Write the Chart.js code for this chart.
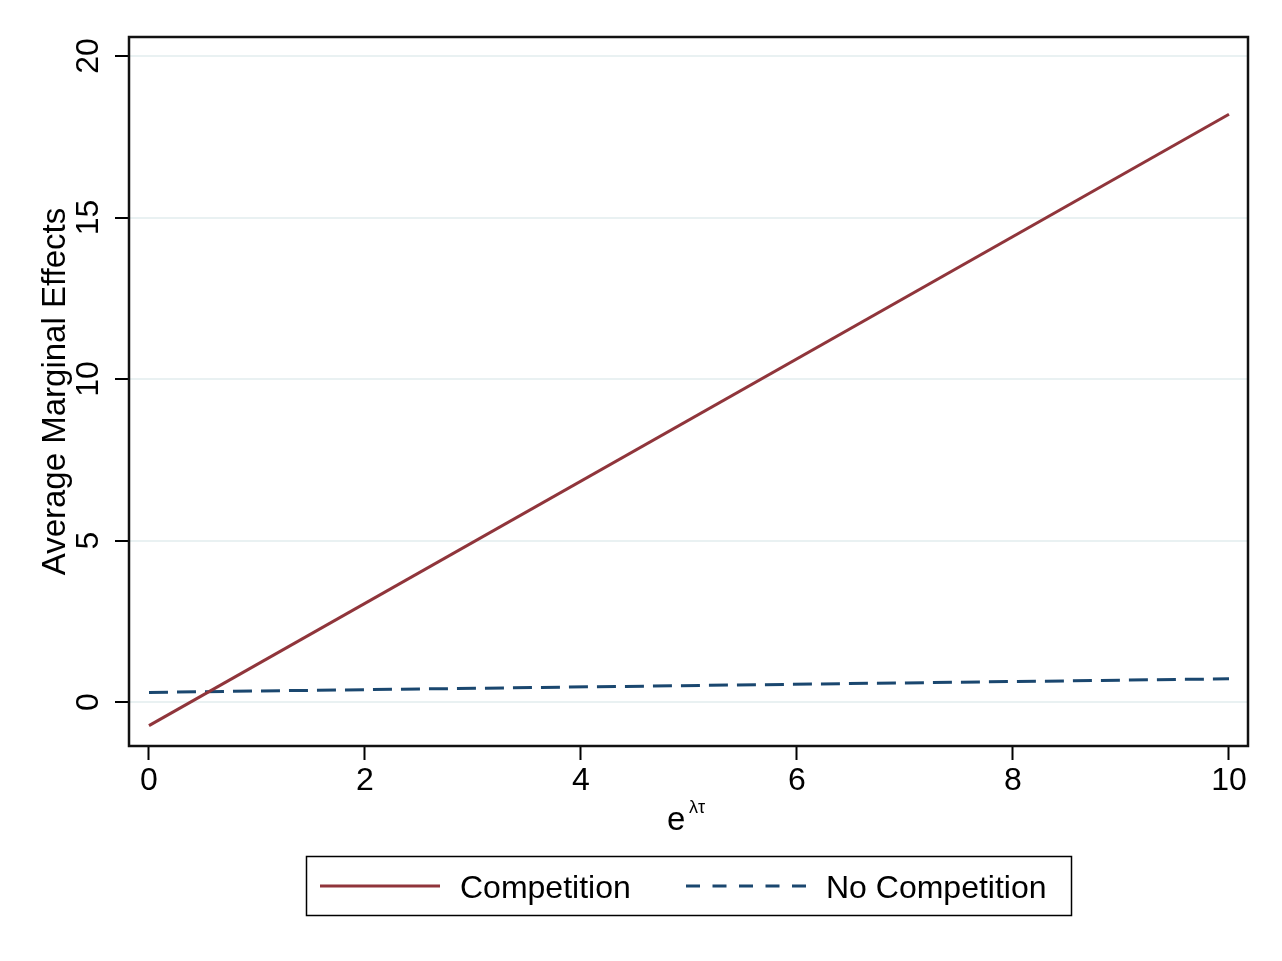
<!DOCTYPE html>
<html lang="en">
<head>
  <meta charset="UTF-8">
  <title>Average Marginal Effects</title>
  <script src="https://cdn.jsdelivr.net/npm/chart.js"></script>
  <style>
    html, body { margin: 0; padding: 0; background: #fff; }
    canvas { display: block; }
  </style>
</head>
<body>
  <canvas id="chart" width="1282" height="961"></canvas>

  <script>
    // values
    const xValues = [0, 10];
    const competition = [-0.73, 18.2];
    const noCompetition = [0.30, 0.72];
    const xTicks = [0, 2, 4, 6, 8, 10];
    const yTicks = [0, 5, 10, 15, 20];
    const seriesNames = ['Competition', 'No Competition'];

    const FONT = '"Liberation Sans", Arial, sans-serif';
    const maroon = '#90353b';
    const navy = '#1a476f';

    const toPoints = ys => xValues.map((x, i) => ({ x: x, y: ys[i] }));

    // y tick labels (rotated), x title with superscript, frame and boxed legend
    const stataBits = {
      id: 'stataBits',
      afterDraw(chart) {
        const ctx = chart.ctx;
        const area = chart.chartArea;
        const yScale = chart.scales.y;

        ctx.save();
        ctx.fillStyle = '#000';
        ctx.font = '32px ' + FONT;
        ctx.textAlign = 'center';
        ctx.textBaseline = 'middle';
        yTicks.forEach(v => {
          const py = yScale.getPixelForValue(v);
          ctx.save();
          ctx.translate(89, py);
          ctx.rotate(-Math.PI / 2);
          ctx.fillText(String(v), 0, 0);
          ctx.restore();
        });

        // x axis title e^{λτ}
        ctx.textAlign = 'left';
        ctx.textBaseline = 'alphabetic';
        ctx.font = '33px ' + FONT;
        ctx.fillText('e', 667, 830);
        ctx.font = '18px ' + FONT;
        ctx.fillText('λτ', 689, 813);

        // plot frame
        ctx.strokeStyle = '#111';
        ctx.lineWidth = 2.5;
        ctx.strokeRect(area.left, area.top, area.right - area.left, area.bottom - area.top);

        // legend
        ctx.lineWidth = 1.5;
        ctx.strokeStyle = '#000';
        ctx.strokeRect(306.5, 856.5, 765, 59);

        ctx.lineWidth = 3;
        ctx.strokeStyle = maroon;
        ctx.beginPath();
        ctx.moveTo(320, 886);
        ctx.lineTo(440, 886);
        ctx.stroke();

        ctx.strokeStyle = navy;
        ctx.setLineDash([14, 12.5]);
        ctx.beginPath();
        ctx.moveTo(686, 886);
        ctx.lineTo(806, 886);
        ctx.stroke();
        ctx.setLineDash([]);

        ctx.font = '32px ' + FONT;
        ctx.fillStyle = '#000';
        ctx.fillText(seriesNames[0], 460, 898);
        ctx.fillText(seriesNames[1], 826, 898);
        ctx.restore();
      }
    };

    new Chart(document.getElementById('chart'), {
      type: 'scatter',
      data: {
        datasets: [
          {
            label: seriesNames[0],
            data: toPoints(competition),
            showLine: true,
            borderColor: maroon,
            borderWidth: 3,
            pointRadius: 0
          },
          {
            label: seriesNames[1],
            data: toPoints(noCompetition),
            showLine: true,
            borderColor: navy,
            borderWidth: 3,
            borderDash: [19, 9],
            pointRadius: 0
          }
        ]
      },
      options: {
        responsive: false,
        animation: false,
        devicePixelRatio: 1,
        layout: { padding: { top: 37, right: 34, left: 0, bottom: 0 } },
        plugins: {
          legend: { display: false },
          tooltip: { enabled: false }
        },
        scales: {
          x: {
            type: 'linear',
            min: -0.185,
            max: 10.176,
            afterBuildTicks: s => { s.ticks = xTicks.map(v => ({ value: v })); },
            afterFit: s => { s.height = 215; },
            border: { display: false },
            grid: {
              drawOnChartArea: false,
              tickLength: 14,
              tickColor: '#000',
              tickWidth: 2
            },
            ticks: {
              color: '#000',
              font: { family: FONT, size: 32 },
              padding: 2,
              maxRotation: 0,
              autoSkip: false
            }
          },
          y: {
            type: 'linear',
            min: -1.36,
            max: 20.59,
            afterBuildTicks: s => { s.ticks = yTicks.map(v => ({ value: v })); },
            afterFit: s => { s.width = 129; },
            border: { display: false },
            grid: {
              color: '#e9f1f2',
              lineWidth: 2,
              tickLength: 14,
              tickColor: '#000',
              tickWidth: 2
            },
            ticks: { display: false },
            title: {
              display: true,
              text: 'Average Marginal Effects',
              color: '#000',
              font: { family: FONT, size: 33 },
              padding: { top: 36, bottom: 0 }
            }
          }
        }
      },
      plugins: [stataBits]
    });
  </script>
</body>
</html>
